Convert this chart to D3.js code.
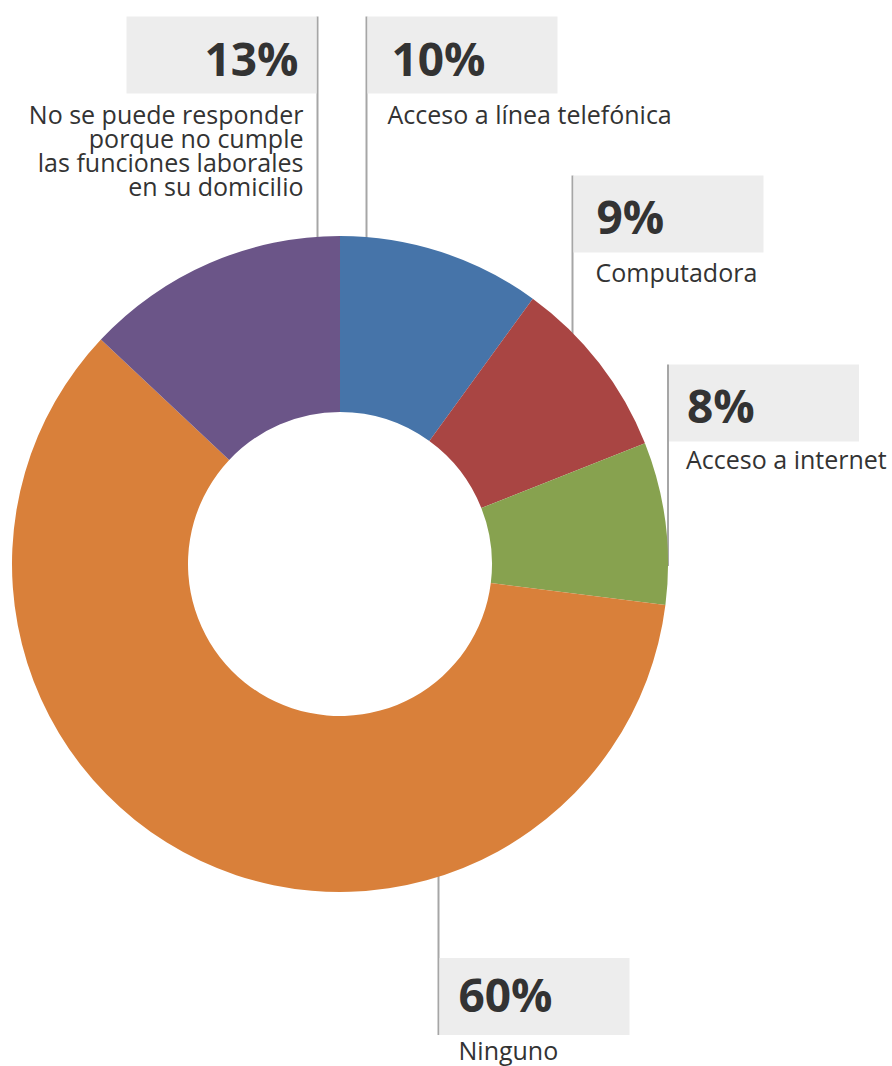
<!DOCTYPE html>
<html>
<head>
<meta charset="utf-8">
<script src="https://cdn.jsdelivr.net/npm/d3@7/dist/d3.min.js"></script>
<style>
  html, body { margin: 0; padding: 0; background: #ffffff; }
  svg { display: block; }
  text { font-family: "Open Sans", "Noto Sans", sans-serif; fill: #333333; }
</style>
</head>
<body>
<svg id="chart" width="892" height="1066"></svg>
<script>
// Data: categories in clockwise order, starting at 12 o'clock
const categories = [
  "Acceso a línea telefónica",
  "Computadora",
  "Acceso a internet",
  "Ninguno",
  "No se puede responder porque no cumple las funciones laborales en su domicilio"
];
const values = [10, 9, 8, 60, 13];
const valueLabels = ["10%", "9%", "8%", "60%", "13%"];
const labelLines = [
  ["Acceso a línea telefónica"],
  ["Computadora"],
  ["Acceso a internet"],
  ["Ninguno"],
  ["No se puede responder", "porque no cumple", "las funciones laborales", "en su domicilio"]
];
const colors = ["#4674a9", "#a94543", "#87a24f", "#d9803a", "#6b5588"];

// Layout
const cx = 340, cy = 564, outerR = 328, innerR = 152;
const boxW = 190, boxH = 77;
// Callout placement: leader line x, box top y, side the box opens to,
// and text offsets inside each callout
const callouts = [
  { lineX: 366.5, top: 16.5,  side: "right", pctDx: 25, pctDy: 59, txtDx: 21, txtDy: 107 },
  { lineX: 572.5, top: 175.5, side: "right", pctDx: 24, pctDy: 58, txtDx: 23, txtDy: 106 },
  { lineX: 668,   top: 364.5, side: "right", pctDx: 19, pctDy: 58, txtDx: 18, txtDy: 104 },
  { lineX: 438.5, top: 958,   side: "right", pctDx: 20, pctDy: 54, txtDx: 20, txtDy: 102, below: true },
  { lineX: 317.5, top: 16.5,  side: "left",  pctDx: 19, pctDy: 59, txtDx: 14, txtDy: 107 }
];

const svg = d3.select("#chart");

const pie = d3.pie().sort(null).value(d => d)
  .startAngle(0).endAngle(2 * Math.PI);
const arcs = pie(values);
const arc = d3.arc().innerRadius(innerR).outerRadius(outerR);

// Leader lines (drawn first so the ring sits on top of their ends)
const lines = svg.append("g").attr("class", "leaders");
callouts.forEach((c, i) => {
  const dx = c.lineX - cx;
  const h = Math.sqrt(Math.max(0, outerR * outerR - dx * dx));
  const yArc = c.below ? cy + h - 2 : cy - h + 2;
  const y2 = c.below ? c.top + boxH : c.top;
  lines.append("line")
    .attr("x1", c.lineX).attr("x2", c.lineX)
    .attr("y1", yArc).attr("y2", y2)
    .attr("stroke", "#a6a6a6").attr("stroke-width", 2);
});

// Donut ring
svg.append("g")
  .attr("transform", `translate(${cx},${cy})`)
  .selectAll("path")
  .data(arcs)
  .join("path")
  .attr("d", arc)
  .attr("fill", (d, i) => colors[i]);

// Callout boxes and texts
const labels = svg.append("g").attr("class", "callouts");
callouts.forEach((c, i) => {
  const g = labels.append("g");
  const toRight = c.side === "right";
  const bx = toRight ? c.lineX + 1 : c.lineX - 1 - boxW;
  g.append("rect")
    .attr("x", bx).attr("y", c.top)
    .attr("width", boxW).attr("height", boxH)
    .attr("fill", "#ededed");
  g.append("text")
    .attr("x", toRight ? c.lineX + c.pctDx : c.lineX - c.pctDx)
    .attr("y", c.top + c.pctDy)
    .attr("text-anchor", toRight ? "start" : "end")
    .style("font-weight", 700)
    .style("font-size", "46px")
    .text(valueLabels[i]);
  labelLines[i].forEach((ln, k) => {
    g.append("text")
      .attr("x", toRight ? c.lineX + c.txtDx : c.lineX - c.txtDx)
      .attr("y", c.top + c.txtDy + k * 24)
      .attr("text-anchor", toRight ? "start" : "end")
      .style("font-size", "25px")
      .text(ln);
  });
});
</script>
</body>
</html>
